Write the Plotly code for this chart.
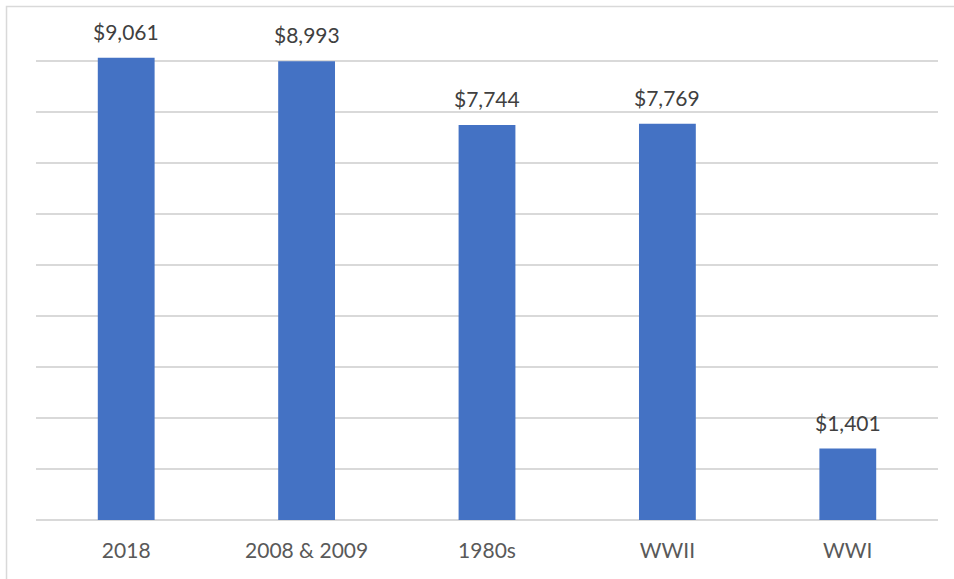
import plotly.graph_objects as go

categories = ["2018", "2008 & 2009", "1980s", "WWII", "WWI"]
values = [9061, 8993, 7744, 7769, 1401]
labels = ["$9,061", "$8,993", "$7,744", "$7,769", "$1,401"]

BAR_COLOR = "#4472C4"
GRID_COLOR = "#D9D9D9"
FONT = "Lato"

fig = go.Figure(
    go.Bar(
        x=categories,
        y=values,
        marker=dict(color=BAR_COLOR, line=dict(width=0)),
        hoverinfo="skip",
    )
)

# Value labels above each bar (positioned by category index)
for i, (val, lab) in enumerate(zip(values, labels)):
    fig.add_annotation(
        x=i, y=val, text=lab, showarrow=False,
        yanchor="bottom", yshift=12,
        font=dict(family=FONT, size=21, color="#404040"),
    )

# Light outer chart frame
fig.add_shape(
    type="rect", xref="paper", yref="paper",
    x0=-0.0327, x1=1.2, y0=-0.3, y1=1.0168,
    line=dict(color=GRID_COLOR, width=1.5), layer="below",
)

fig.update_layout(
    width=954, height=579,
    margin=dict(l=36, r=16, t=15, b=59),
    paper_bgcolor="white", plot_bgcolor="white",
    bargap=0.685,
    showlegend=False,
    font=dict(family=FONT, size=21, color="#595959"),
    xaxis=dict(
        type="category", range=[-0.5, len(categories) - 0.5],
        showgrid=False, showline=False, ticks="",
        tickfont=dict(family=FONT, size=21, color="#595959"),
        ticklabelstandoff=16,
    ),
    yaxis=dict(
        range=[0, 9900], dtick=1000, showticklabels=False,
        showgrid=True, gridcolor=GRID_COLOR, gridwidth=1.5,
        zeroline=True, zerolinecolor=GRID_COLOR, zerolinewidth=1.5,
        showline=False, ticks="",
    ),
)

fig.write_html("out.html")
